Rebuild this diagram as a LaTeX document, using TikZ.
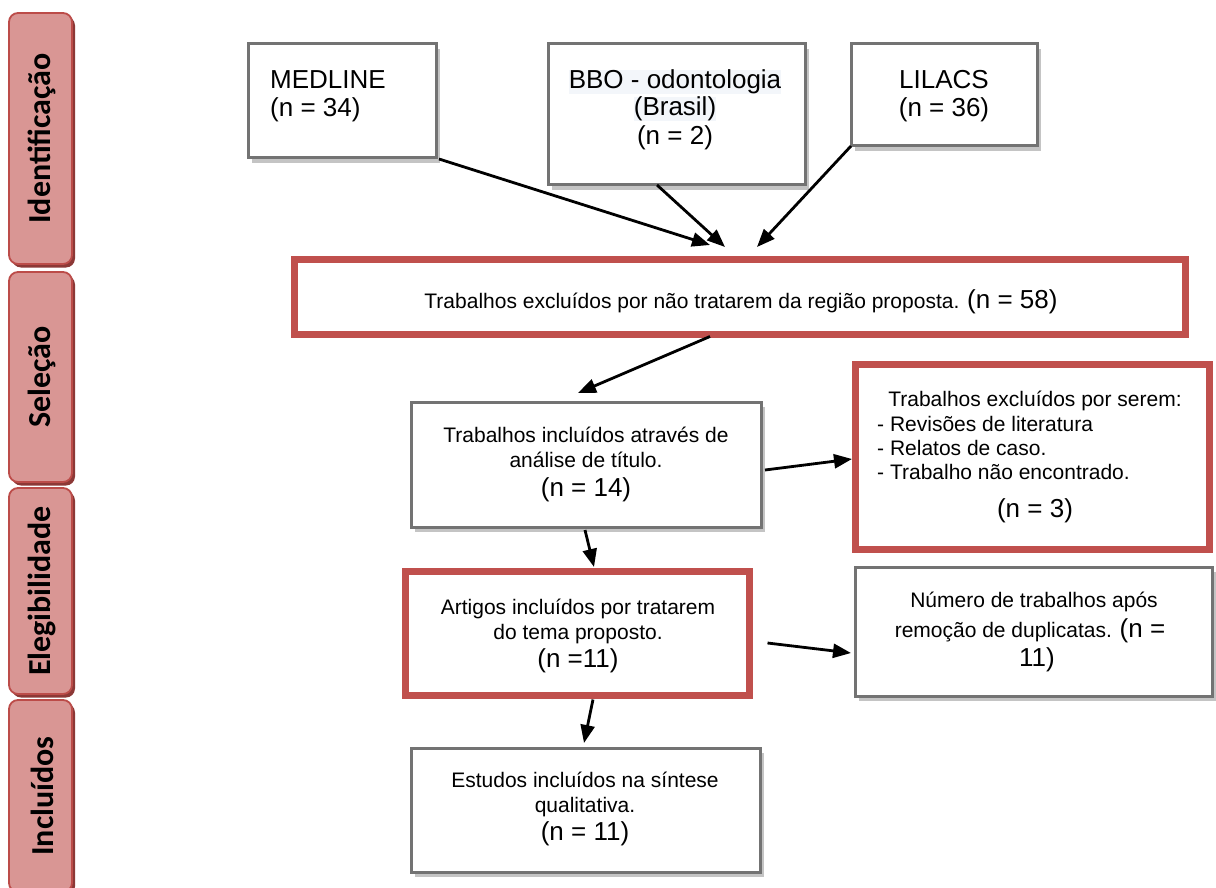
\documentclass[tikz,border=0pt]{standalone}
\usepackage{fontspec}
\setmainfont{Liberation Sans}
\newfontfamily\tabfont{Carlito}
\usetikzlibrary{arrows.meta,shadows}
\definecolor{redc}{RGB}{192,80,77}
\definecolor{tabfillc}{RGB}{217,150,148}
\definecolor{tabdrawc}{RGB}{188,76,73}
\definecolor{tabshadc}{RGB}{140,56,54}
\definecolor{grayc}{RGB}{115,115,115}
\definecolor{shadc}{RGB}{196,196,196}
\definecolor{hlc}{RGB}{243,246,250}
\begin{document}
\begin{tikzpicture}[x=1pt,y=-1pt,
  graybox/.style={rectangle, draw=grayc, line width=3pt, fill=white, inner sep=0pt, outer sep=0pt,
    general shadow={fill=shadc, shadow xshift=4pt, shadow yshift=-5pt}},
  redbox/.style={rectangle, draw=redc, line width=7pt, fill=white, inner sep=0pt, outer sep=0pt},
  tabbox/.style={rectangle, draw=tabdrawc, line width=1.8pt, fill=tabfillc, rounded corners=9pt,
    inner sep=0pt, outer sep=0pt, general shadow={fill=tabshadc, shadow xshift=3pt, shadow yshift=-3.5pt}},
  tabtext/.style={rotate=90, inner sep=0pt, font=\tabfont\bfseries\fontsize{32}{32}\selectfont},
  txt/.style={anchor=base, inner sep=0pt, font=\fontsize{21}{25}\selectfont},
  big/.style={anchor=base, inner sep=0pt, font=\fontsize{26}{30}\selectfont},
  arr/.style={line width=2.8pt, -{Triangle[length=18pt,width=14pt]}}
]
\useasboundingbox (0,0) rectangle (1216,888);

% side tabs
\node[tabbox, minimum width=63pt, minimum height=251pt] (tabA) at (40.5,138.5) {};
\node[tabbox, minimum width=63pt, minimum height=210pt] (tabB) at (40.5,377) {};
\node[tabbox, minimum width=63pt, minimum height=206pt] (tabC) at (40.5,591) {};
\node[tabbox, minimum width=63pt, minimum height=192pt] (tabD) at (40.5,796) {};
\node[tabtext] (tabAt) at (42,138.5) {Identificação};
\node[tabtext] (tabBt) at (42,377) {Seleção};
\node[tabtext] (tabCt) at (42,591) {Elegibilidade};
\node[tabtext] (tabDt) at (42,796) {Incluídos};

% boxes
\node[graybox, minimum width=188pt, minimum height=114pt] (medline) at (342,101) {};
\node[graybox, minimum width=257pt, minimum height=141pt] (bbo) at (676.5,114.5) {};
\node[graybox, minimum width=186pt, minimum height=102pt] (lilacs) at (944,95) {};
\node[redbox, minimum width=891pt, minimum height=75pt] (red1) at (740,297) {};
\node[graybox, minimum width=350pt, minimum height=125pt] (trab) at (586,464.5) {};
\node[redbox, minimum width=354pt, minimum height=185pt] (serem) at (1032.5,457) {};
\node[redbox, minimum width=344pt, minimum height=124pt] (artigos) at (577.5,633.5) {};
\node[graybox, minimum width=357pt, minimum height=129pt] (numero) at (1033.5,631.5) {};
\node[graybox, minimum width=349pt, minimum height=124pt] (estudos) at (585.5,810) {};

% texts
\node[big, anchor=base west] (m1) at (270,89) {MEDLINE};
\node[big, anchor=base west] (m2) at (270,117) {(n = 34)};
\node[big, fill=hlc] (b2) at (675,116) {(Brasil)};
\node[big, fill=hlc] (b1) at (675,89) {BBO - odontologia};
\node[big] (b3) at (675,145) {(n = 2)};
\node[big] (l1) at (944,89) {LILACS};
\node[big] (l2) at (944,117) {(n = 36)};
\node[txt] (r1) at (741,308) {Trabalhos excluídos por não tratarem da região proposta. {\fontsize{26}{30}\selectfont (n = 58)}};
\node[txt] (t1) at (586,442) {Trabalhos incluídos através de};
\node[txt] (t2) at (586,467) {análise de título.};
\node[big] (t3) at (586,496) {(n = 14)};
\node[txt] (s1) at (1035,406) {Trabalhos excluídos por serem:};
\node[txt, anchor=base west] (s2) at (877,431) {- Revisões de literatura};
\node[txt, anchor=base west] (s3) at (877,455) {- Relatos de caso.};
\node[txt, anchor=base west] (s4) at (877,479) {- Trabalho não encontrado.};
\node[big] (s5) at (1035,517) {(n = 3)};
\node[txt] (a1) at (578,614) {Artigos incluídos por tratarem};
\node[txt] (a2) at (578,639) {do tema proposto.};
\node[big] (a3) at (578,667) {(n =11)};
\node[txt] (n1) at (1034,607) {Número de trabalhos após};
\node[txt] (n2) at (1030,637) {remoção de duplicatas. {\fontsize{26}{30}\selectfont (n =}};
\node[big] (n3) at (1037,666) {11)};
\node[txt] (e1t) at (585,787) {Estudos incluídos na síntese};
\node[txt] (e2t) at (585,812) {qualitativa.};
\node[big] (e3t) at (585,840) {(n = 11)};

% arrow end points
\coordinate (e1) at (710,245);
\coordinate (e2) at (725,247);
\coordinate (e3) at (757,247);
\coordinate (e4) at (578,393);
\coordinate (e5) at (852,459);
\coordinate (e6) at (594,567);
\coordinate (e7) at (851,653);
\coordinate (e8) at (584,743);

\draw[arr] ([shift={(3pt,-1pt)}]medline.south east) -- (e1);
\draw[arr] ([xshift=-19.5pt]bbo.south) -- (e2);
\draw[arr] (lilacs.south west) -- (e3);
\draw[arr] ([shift={(-30pt,-2pt)}]red1.south) -- (e4);
\draw[arr] ([shift={(4pt,-5.5pt)}]trab.east) -- (e5);
\draw[arr] ([shift={(-1pt,-3pt)}]trab.south) -- (e6);
\draw[arr] ([shift={(18pt,-9.5pt)}]artigos.east) -- (e7);
\draw[arr] ([shift={(15.5pt,-4pt)}]artigos.south) -- (e8);
\end{tikzpicture}
\end{document}
